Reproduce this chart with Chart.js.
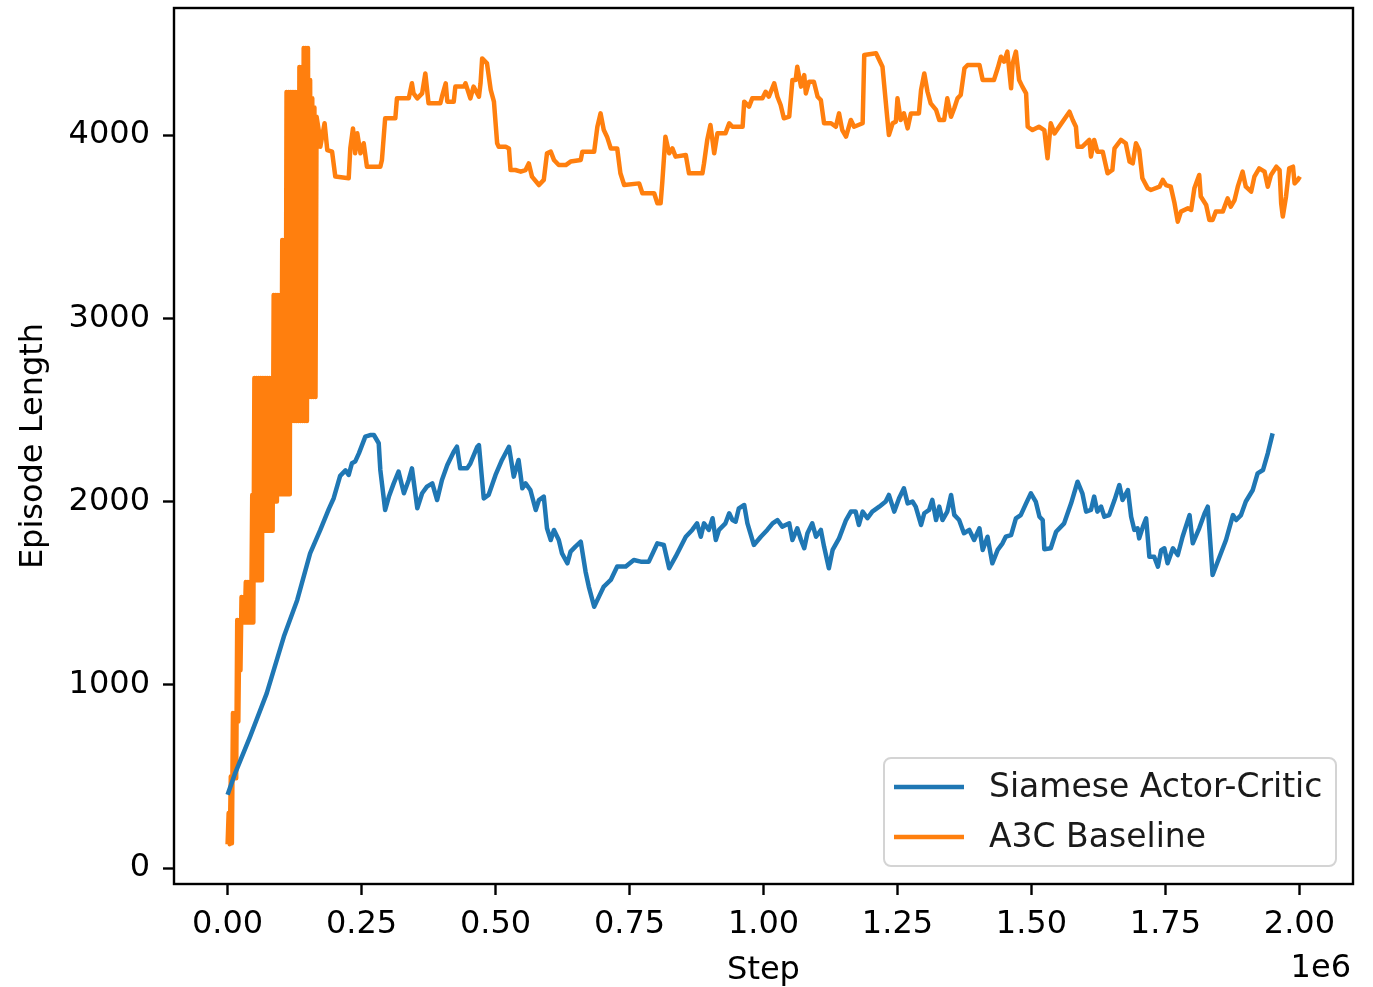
<!DOCTYPE html>
<html lang="en">
<head>
<meta charset="UTF-8">
<title>Episode Length</title>
<script src="https://cdn.jsdelivr.net/npm/chart.js"></script>
<style>
  body { margin: 0; background: #fff; }
</style>
</head>
<body>
<canvas id="lengthChart" width="1373" height="987"></canvas>
<script>
const siameseSteps = [0, 14, 42, 73, 105, 130, 154, 173, 189, 198, 210, 220, 226, 232, 238, 245, 257, 266, 273, 282, 285, 294, 301, 310, 319, 329, 338, 344, 354, 363, 372, 382, 391, 400, 410, 422, 428, 434, 447, 453, 466, 469, 478, 487, 500, 512, 525, 534, 543, 550, 556, 565, 575, 581, 590, 596, 603, 609, 618, 624, 634, 640, 649, 659, 668, 674, 684, 693, 702, 715, 727, 743, 758, 771, 786, 802, 814, 824, 836, 855, 867, 876, 883, 889, 898, 905, 911, 917, 929, 936, 942, 948, 954, 964, 970, 982, 995, 1007, 1017, 1026, 1035, 1048, 1054, 1063, 1070, 1076, 1082, 1091, 1098, 1107, 1113, 1122, 1129, 1141, 1154, 1163, 1172, 1178, 1185, 1194, 1203, 1216, 1228, 1234, 1244, 1253, 1262, 1269, 1278, 1284, 1294, 1300, 1309, 1315, 1322, 1328, 1334, 1343, 1350, 1356, 1365, 1374, 1384, 1393, 1403, 1409, 1418, 1427, 1437, 1446, 1452, 1462, 1471, 1480, 1490, 1499, 1508, 1515, 1521, 1524, 1536, 1546, 1561, 1574, 1586, 1595, 1602, 1611, 1617, 1623, 1630, 1636, 1645, 1655, 1664, 1670, 1680, 1686, 1692, 1698, 1701, 1708, 1714, 1720, 1729, 1736, 1742, 1748, 1754, 1764, 1773, 1782, 1795, 1801, 1813, 1823, 1829, 1838, 1851, 1863, 1876, 1882, 1891, 1900, 1913, 1922, 1932, 1941, 1950];
const siameseLength = [400, 517, 717, 953, 1263, 1463, 1717, 1845, 1960, 2018, 2140, 2170, 2145, 2209, 2218, 2263, 2354, 2363, 2363, 2318, 2172, 1954, 2027, 2099, 2163, 2045, 2118, 2181, 1963, 2045, 2081, 2099, 2008, 2118, 2199, 2272, 2299, 2181, 2181, 2208, 2299, 2308, 2017, 2036, 2145, 2227, 2299, 2136, 2227, 2072, 2099, 2063, 1954, 2008, 2027, 1854, 1790, 1845, 1790, 1717, 1663, 1727, 1754, 1781, 1617, 1536, 1426, 1481, 1536, 1572, 1645, 1645, 1681, 1672, 1672, 1772, 1763, 1636, 1699, 1808, 1845, 1881, 1808, 1881, 1845, 1909, 1790, 1845, 1881, 1936, 1899, 1890, 1963, 1981, 1881, 1763, 1808, 1845, 1881, 1899, 1863, 1881, 1790, 1854, 1790, 1745, 1827, 1881, 1808, 1845, 1754, 1636, 1736, 1799, 1899, 1945, 1945, 1872, 1945, 1909, 1945, 1972, 2000, 2036, 1945, 2018, 2072, 1990, 2000, 1972, 1872, 1936, 1954, 2009, 1899, 1972, 1899, 1945, 2036, 1927, 1899, 1827, 1845, 1790, 1854, 1736, 1808, 1663, 1736, 1772, 1808, 1817, 1908, 1926, 1990, 2045, 2000, 1917, 1899, 1740, 1745, 1835, 1881, 1990, 2108, 2045, 1945, 1954, 2027, 1945, 1972, 1917, 1926, 2008, 2090, 2008, 2063, 1917, 1845, 1854, 1799, 1863, 1908, 1699, 1699, 1645, 1735, 1745, 1663, 1745, 1708, 1808, 1926, 1772, 1854, 1935, 1972, 1599, 1699, 1790, 1926, 1899, 1926, 2000, 2063, 2154, 2172, 2263, 2372];

// the early A3C run flips between two levels on every logged episode
const a3cSteps = [0, 2, 4, 6, 8, 10, 12, 14, 16, 18, 20, 22, 24, 26, 28, 30, 32, 34, 36, 38, 40, 42, 44, 46, 48, 50, 52, 54, 56, 58, 60, 62, 64, 66, 68, 70, 72, 74, 76, 78, 80, 82, 84, 86, 88, 90, 92, 94, 96, 98, 100, 102, 104, 106, 108, 110, 112, 114, 116, 118, 120, 122, 124, 126, 128, 130, 132, 134, 136, 138, 140, 142, 144, 146, 148, 150, 152, 154, 156, 158, 160, 162, 164, 166,
  170, 173, 181, 186, 195, 201, 226, 229, 234, 238, 242, 248, 254, 260, 285, 288, 294, 313, 316, 338, 344, 347, 354, 363, 369, 375, 397, 400, 407, 410, 422, 425, 441, 444, 453, 459, 469, 472, 475, 484, 491, 497, 503, 506, 519, 525, 528, 537, 547, 556, 562, 568, 581, 590, 596, 603, 609, 618, 631, 640, 659, 662, 684, 690, 696, 702, 708, 715, 727, 733, 740, 768, 774, 796, 802, 808, 811, 817, 824, 830, 836, 855, 861, 886, 889, 895, 901, 908, 914, 929, 936, 942, 961, 964, 973, 979, 998, 1004, 1010, 1020, 1026, 1032, 1038, 1048, 1054, 1060, 1063, 1070, 1076, 1079, 1085, 1094, 1101, 1107, 1113, 1126, 1135, 1141, 1147, 1154, 1163, 1169, 1185, 1188, 1210, 1216, 1222, 1231, 1234, 1241, 1247, 1250, 1256, 1262, 1269, 1275, 1290, 1294, 1300, 1306, 1312, 1322, 1328, 1337, 1343, 1350, 1356, 1362, 1368, 1375, 1381, 1403, 1409, 1430, 1437, 1443, 1449, 1455, 1462, 1465, 1471, 1477, 1483, 1490, 1493, 1502, 1514, 1524, 1530, 1536, 1543, 1571, 1577, 1583, 1586, 1595, 1608, 1611, 1617, 1623, 1633, 1642, 1651, 1655, 1667, 1676, 1683, 1689, 1695, 1701, 1707, 1717, 1723, 1739, 1745, 1751, 1760, 1767, 1773, 1779, 1792, 1798, 1804, 1813, 1816, 1826, 1832, 1838, 1844, 1857, 1866, 1872, 1879, 1885, 1894, 1900, 1910, 1916, 1925, 1935, 1941, 1947, 1957, 1963, 1966, 1969, 1975, 1981, 1988, 1991, 1997, 2001];
const a3cLength = [130, 300, 130, 500, 135, 846, 490, 846, 490, 1353, 800, 1353, 1080, 1479, 1340, 1479, 1340, 1561, 1340, 1561, 1340, 1561, 1340, 2035, 1340, 2674, 1570, 2674, 1570, 2674, 1570, 2674, 1570, 2674, 1840, 2674, 1840, 2674, 1840, 2674, 1840, 2674, 1840, 3127, 2000, 3127, 2000, 3127, 2040, 3127, 2040, 3427, 2040, 3427, 2040, 4235, 2040, 4235, 2040, 4235, 2440, 4235, 2440, 4235, 2440, 4235, 2440, 4371, 2440, 4371, 2440, 4475, 2440, 4475, 2440, 4475, 2570, 4300, 2570, 4200, 2570, 4150, 2570, 4100,
  4027, 3936, 4064, 3918, 3909, 3773, 3764, 3927, 4036, 3900, 4009, 3900, 3955, 3827, 3827, 3864, 4091, 4091, 4200, 4200, 4282, 4227, 4200, 4227, 4336, 4173, 4173, 4209, 4282, 4182, 4182, 4264, 4264, 4282, 4200, 4264, 4209, 4282, 4418, 4391, 4246, 4182, 3955, 3936, 3936, 3927, 3809, 3809, 3800, 3809, 3845, 3773, 3727, 3755, 3900, 3909, 3864, 3836, 3836, 3855, 3864, 3909, 3909, 4045, 4118, 4027, 3991, 3927, 3927, 3791, 3727, 3736, 3682, 3682, 3627, 3627, 3736, 3991, 3900, 3927, 3882, 3891, 3791, 3791, 3845, 3973, 4055, 3900, 4009, 4009, 4064, 4045, 4045, 4182, 4155, 4200, 4200, 4236, 4209, 4282, 4209, 4164, 4091, 4100, 4300, 4300, 4373, 4264, 4327, 4227, 4291, 4291, 4209, 4191, 4064, 4064, 4045, 4118, 4027, 3991, 4082, 4045, 4064, 4437, 4446, 4409, 4373, 4091, 4000, 4064, 4073, 4200, 4082, 4118, 4036, 4118, 4118, 4246, 4336, 4236, 4173, 4137, 4082, 4082, 4200, 4100, 4146, 4200, 4218, 4364, 4382, 4382, 4300, 4300, 4364, 4427, 4400, 4455, 4255, 4391, 4455, 4300, 4264, 4227, 4045, 4027, 4045, 4027, 3873, 4064, 4009, 4127, 4082, 4045, 3936, 3936, 3973, 3882, 3973, 3909, 3909, 3791, 3809, 3927, 3973, 3955, 3855, 3845, 3955, 3918, 3764, 3709, 3700, 3718, 3755, 3727, 3718, 3627, 3527, 3582, 3600, 3591, 3709, 3782, 3664, 3618, 3536, 3536, 3582, 3582, 3654, 3609, 3645, 3718, 3800, 3718, 3691, 3773, 3818, 3800, 3718, 3782, 3827, 3809, 3627, 3555, 3664, 3818, 3827, 3736, 3755, 3773];

const seriesLabels = ['Siamese Actor-Critic', 'A3C Baseline'];
const seriesColors = ['#1f77b4', '#ff7f0e'];
const xTicks = [0, 250000, 500000, 750000, 1000000, 1250000, 1500000, 1750000, 2000000];
const yTicks = [0, 1000, 2000, 3000, 4000];

const FONT = 'DejaVu Sans';

function toPoints(steps, values) {
  return steps.map((s, i) => ({ x: s * 1000, y: values[i] }));
}

// axes box, "1e6" offset text and the legend, matplotlib style
const mplExtras = {
  id: 'mplExtras',
  afterDraw(chart) {
    const { ctx, chartArea: a } = chart;
    ctx.save();
    ctx.strokeStyle = '#000';
    ctx.lineWidth = 2.4;
    ctx.strokeRect(a.left, a.top, a.right - a.left, a.bottom - a.top);

    ctx.fillStyle = '#000';
    ctx.font = '32px "' + FONT + '"';
    ctx.textAlign = 'right';
    ctx.textBaseline = 'alphabetic';
    ctx.fillText('1e6', a.right - 2, 977);

    // legend
    const bw = 452, bh = 108;
    const bx = a.right - 17 - bw, by = a.bottom - 18 - bh;
    ctx.beginPath();
    ctx.roundRect(bx, by, bw, bh, 7);
    ctx.fillStyle = 'rgba(255,255,255,0.8)';
    ctx.fill();
    ctx.strokeStyle = '#d4d4d4';
    ctx.lineWidth = 2;
    ctx.stroke();
    ctx.font = '33px "' + FONT + '"';
    ctx.textAlign = 'left';
    ctx.textBaseline = 'middle';
    chart.data.datasets.forEach((ds, i) => {
      const yy = by + 29 + i * 50;
      ctx.strokeStyle = ds.borderColor;
      ctx.lineWidth = 4.5;
      ctx.beginPath();
      ctx.moveTo(bx + 10, yy);
      ctx.lineTo(bx + 80, yy);
      ctx.stroke();
      ctx.fillStyle = '#1a1a1a';
      ctx.fillText(ds.label, bx + 105, yy + 1);
    });
    ctx.restore();
  }
};

const tickGrid = {
  display: true, drawOnChartArea: false, drawTicks: true,
  tickLength: 11, tickColor: '#000', tickWidth: 2.4, color: '#000'
};

new Chart(document.getElementById('lengthChart'), {
  type: 'line',
  data: {
    datasets: [
      { label: seriesLabels[0], data: toPoints(siameseSteps, siameseLength), borderColor: seriesColors[0] },
      { label: seriesLabels[1], data: toPoints(a3cSteps, a3cLength), borderColor: seriesColors[1] }
    ]
  },
  options: {
    responsive: false,
    animation: false,
    devicePixelRatio: 1,
    layout: { padding: { top: 8, right: 20, bottom: 0, left: 0 } },
    elements: {
      point: { radius: 0 },
      line: { borderWidth: 4.5, tension: 0, fill: false, borderJoinStyle: 'round' }
    },
    plugins: { legend: { display: false }, tooltip: { enabled: false } },
    scales: {
      x: {
        type: 'linear', min: -100000, max: 2100000,
        afterBuildTicks: s => { s.ticks = xTicks.map(v => ({ value: v })); },
        afterFit: s => { s.height = 103; s.paddingLeft = 0; s.paddingRight = 0; },
        grid: tickGrid,
        border: { display: false },
        ticks: {
          color: '#000', autoSkip: false, maxRotation: 0, padding: 10,
          font: { family: FONT, size: 32 },
          callback: v => (v / 1e6).toFixed(2)
        },
        title: {
          display: true, text: 'Step', color: '#000',
          font: { family: FONT, size: 32 }, padding: { top: 0, bottom: -3 }
        }
      },
      y: {
        type: 'linear', min: -87, max: 4693,
        afterBuildTicks: s => { s.ticks = yTicks.map(v => ({ value: v })); },
        afterFit: s => { s.width = 174; s.paddingTop = 0; s.paddingBottom = 0; },
        grid: tickGrid,
        border: { display: false },
        ticks: {
          color: '#000', padding: 13,
          font: { family: FONT, size: 32 },
          callback: v => String(v)
        },
        title: {
          display: true, text: 'Episode Length', color: '#000',
          font: { family: FONT, size: 32 }, padding: { top: 14, bottom: 0 }
        }
      }
    }
  },
  plugins: [mplExtras]
});
</script>
</body>
</html>
